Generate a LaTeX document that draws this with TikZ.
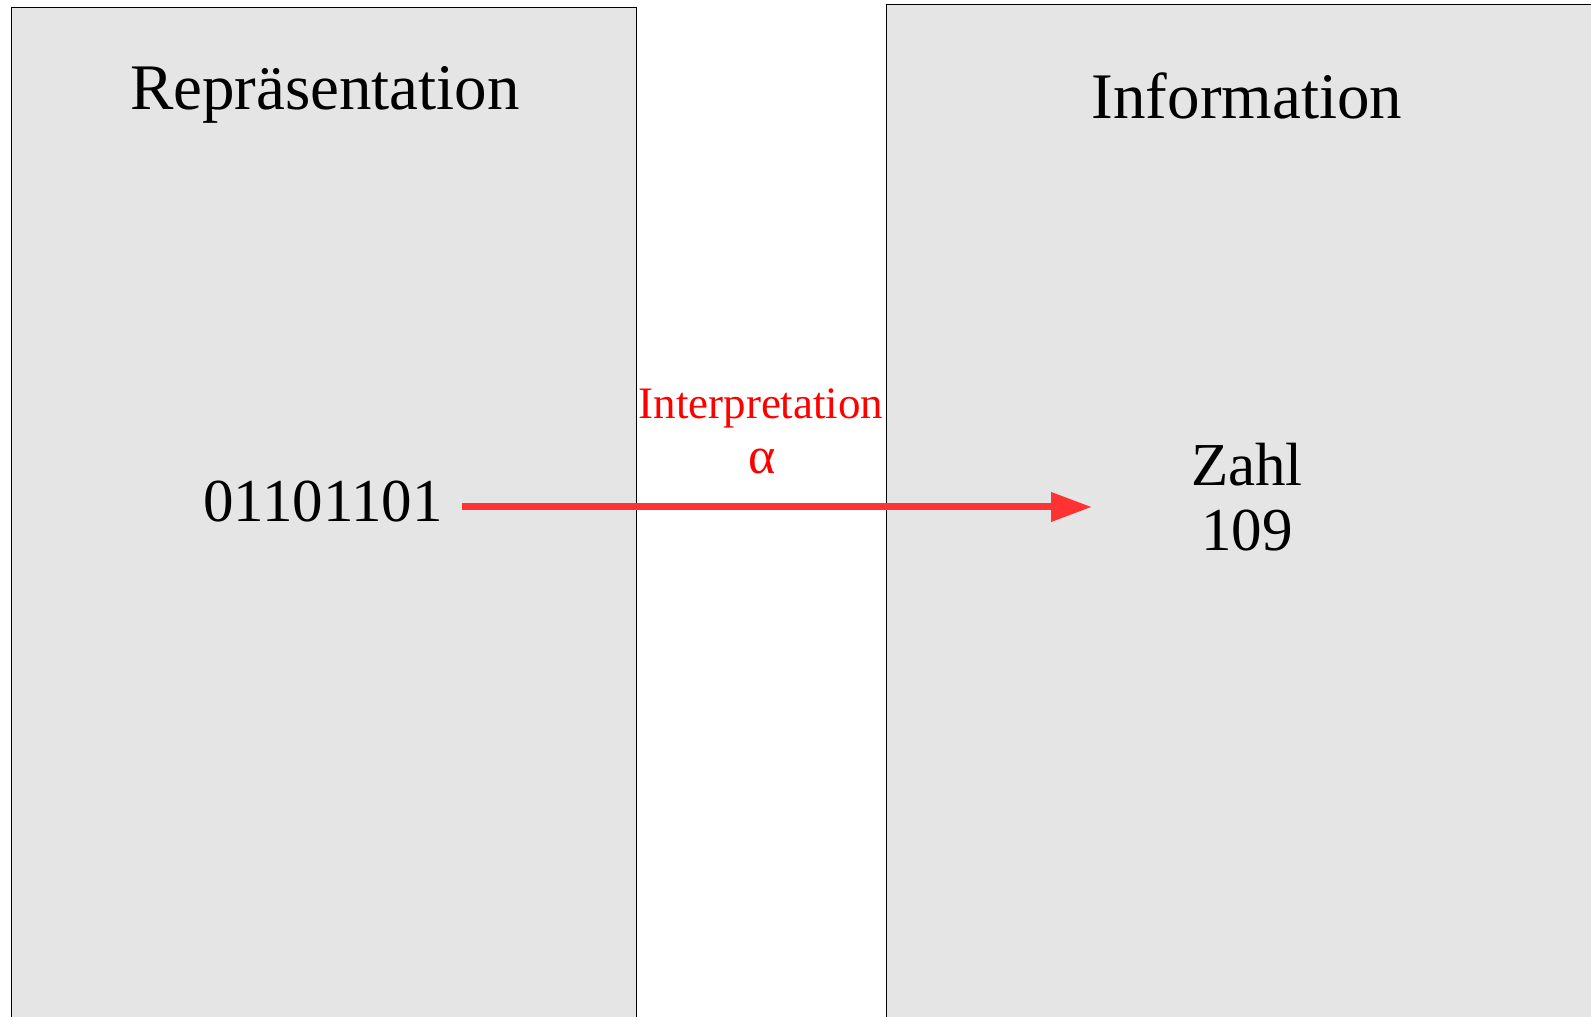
\documentclass[tikz,border=0pt]{standalone}
\usepackage{fontspec}
\setmainfont{Liberation Serif}
\usepackage{tikz}
\usetikzlibrary{arrows.meta,positioning}
\definecolor{RIGray}{HTML}{E5E5E5}
\definecolor{RIRed}{HTML}{FF0000}
\definecolor{RIArrow}{HTML}{FF3333}

\begin{document}
\begin{tikzpicture}[x=1pt,y=1pt,
  feld/.style={fill=RIGray,draw=black,line width=1pt},
  titel/.style={anchor=base,inner sep=0pt,font=\fontsize{65}{70}\selectfont},
  inhalt/.style={anchor=base,inner sep=0pt,font=\fontsize{61}{65}\selectfont},
  marke/.style={anchor=base,inner sep=0pt,text=RIRed,font=\fontsize{45}{50}\selectfont},
  pfeil/.style={RIArrow,line width=7pt,-{Triangle[length=41pt,width=28pt]}}]
\path[use as bounding box] (0,0) rectangle (1591,1017);
\fill[white] (0,0) rectangle (1591,1017);
\draw[feld] (11,-5) rectangle (636,1009);
\draw[feld] (886,-5) rectangle (1600,1012);
\node[titel] (repr) at (325,907) {Repräsentation};
\node[titel] (info) at (1247,898) {Information};
\node[inhalt,inner xsep=19pt] (bin) at (323,495) {01101101};
\node[inhalt] (zahl) at (1247,531) {Zahl};
\node[inhalt] (wert) at (1247,466) {109};
\node[marke] (interp) at (761,598) {Interpretation};
\node[marke,font=\fontsize{52}{56}\selectfont] (alpha) at (762,543) {α};
\coordinate (pfeilende) at (1092,510);
\draw[pfeil] (bin.east |- pfeilende) -- (pfeilende);
\end{tikzpicture}
\end{document}
